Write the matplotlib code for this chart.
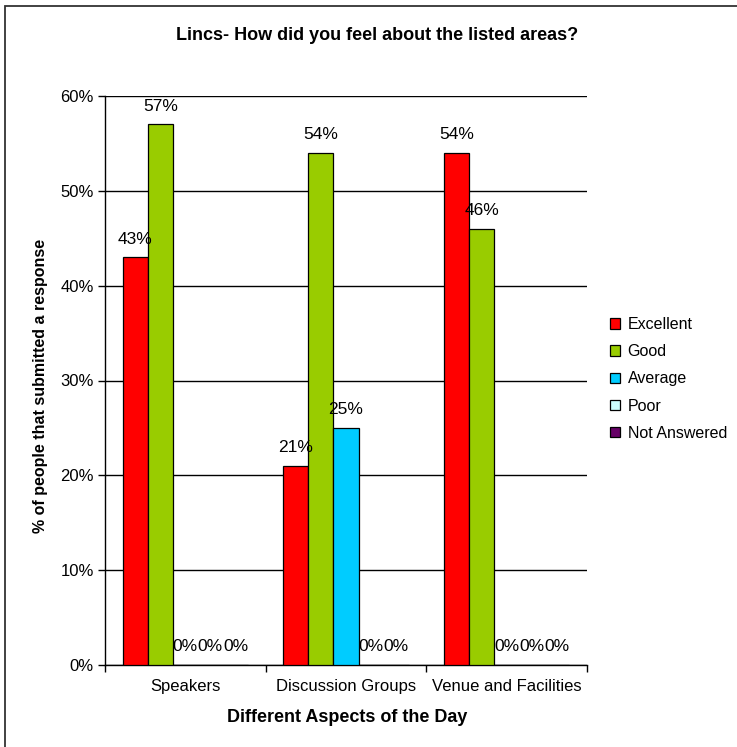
import numpy as np
import matplotlib
matplotlib.use('Agg')
import matplotlib.pyplot as plt
from matplotlib.patches import Rectangle

plt.rcParams['font.family'] = ['Liberation Sans', 'DejaVu Sans']

categories = ['Speakers', 'Discussion Groups', 'Venue and Facilities']
series = ['Excellent', 'Good', 'Average', 'Poor', 'Not Answered']
excellent = [43, 21, 54]
good = [57, 54, 46]
average = [0, 25, 0]
poor = [0, 0, 0]
not_answered = [0, 0, 0]
colors = ['#ff0000', '#99cc00', '#00ccff', '#ccffff', '#660066']
y_ticks = [0, 10, 20, 30, 40, 50, 60]

values = [excellent, good, average, poor, not_answered]

fig = plt.figure(figsize=(7.37, 7.47), dpi=100)
fig.patch.set_facecolor('white')
# chart-area border (right/bottom edges fall outside the image)
fig.patches.append(Rectangle((5 / 737, -0.1), 1.2, 1 - 6 / 747 + 0.1,
                             transform=fig.transFigure, fill=False,
                             edgecolor='#333333', linewidth=1.3))

ax = fig.add_axes([105 / 737, 1 - 665 / 747, 482 / 737, 569 / 747])
ax.set_facecolor('white')

x = np.arange(len(categories))
width = 0.156
for i, (name, vals, col) in enumerate(zip(series, values, colors)):
    pos = x + (i - 2) * width
    ax.bar(pos, vals, width, color=col, edgecolor='black', linewidth=0.9,
           label=name, zorder=3)
    for px, v in zip(pos, vals):
        ax.annotate(f'{v}%', (px, v), xytext=(0, 13), textcoords='offset points',
                    ha='center', va='center', fontsize=12.5, color='black',
                    zorder=4)

ax.set_xlim(-0.5, 2.5)
ax.set_ylim(0, 60)
ax.set_yticks(y_ticks)
ax.set_yticklabels([f'{t}%' for t in y_ticks], fontsize=12)
ax.yaxis.grid(True, color='black', linewidth=1.0, zorder=0)
ax.set_axisbelow(True)
ax.tick_params(axis='y', direction='out', length=5, width=1, pad=3)

ax.set_xticks([-0.5, 0.5, 1.5, 2.5])
ax.set_xticklabels([])
ax.set_xticks(x, minor=True)
ax.set_xticklabels(categories, minor=True, fontsize=12)
ax.tick_params(axis='x', which='major', direction='out', length=5, width=1)
ax.tick_params(axis='x', which='minor', length=0, pad=10)

for s in ('top', 'right'):
    ax.spines[s].set_visible(False)
for s in ('bottom', 'left'):
    ax.spines[s].set_color('black')
    ax.spines[s].set_linewidth(1.0)

fig.text(377 / 737, 1 - 36 / 747, 'Lincs- How did you feel about the listed areas?',
         ha='center', va='center', fontsize=13, fontweight='bold')
fig.text(347 / 737, 1 - 717 / 747, 'Different Aspects of the Day',
         ha='center', va='center', fontsize=13, fontweight='bold')
fig.text(41 / 737, 1 - 386 / 747, '% of people that submitted a response',
         ha='center', va='center', rotation=90, fontsize=11.5, fontweight='bold')

leg = ax.legend(loc='center left', bbox_to_anchor=(602 / 737, 1 - 379 / 747),
                bbox_transform=fig.transFigure, frameon=False, fontsize=11.5,
                handlelength=0.65, handleheight=0.65, handletextpad=0.45,
                labelspacing=0.76, borderpad=0)

fig.savefig('out.png', dpi=100, facecolor='white')
